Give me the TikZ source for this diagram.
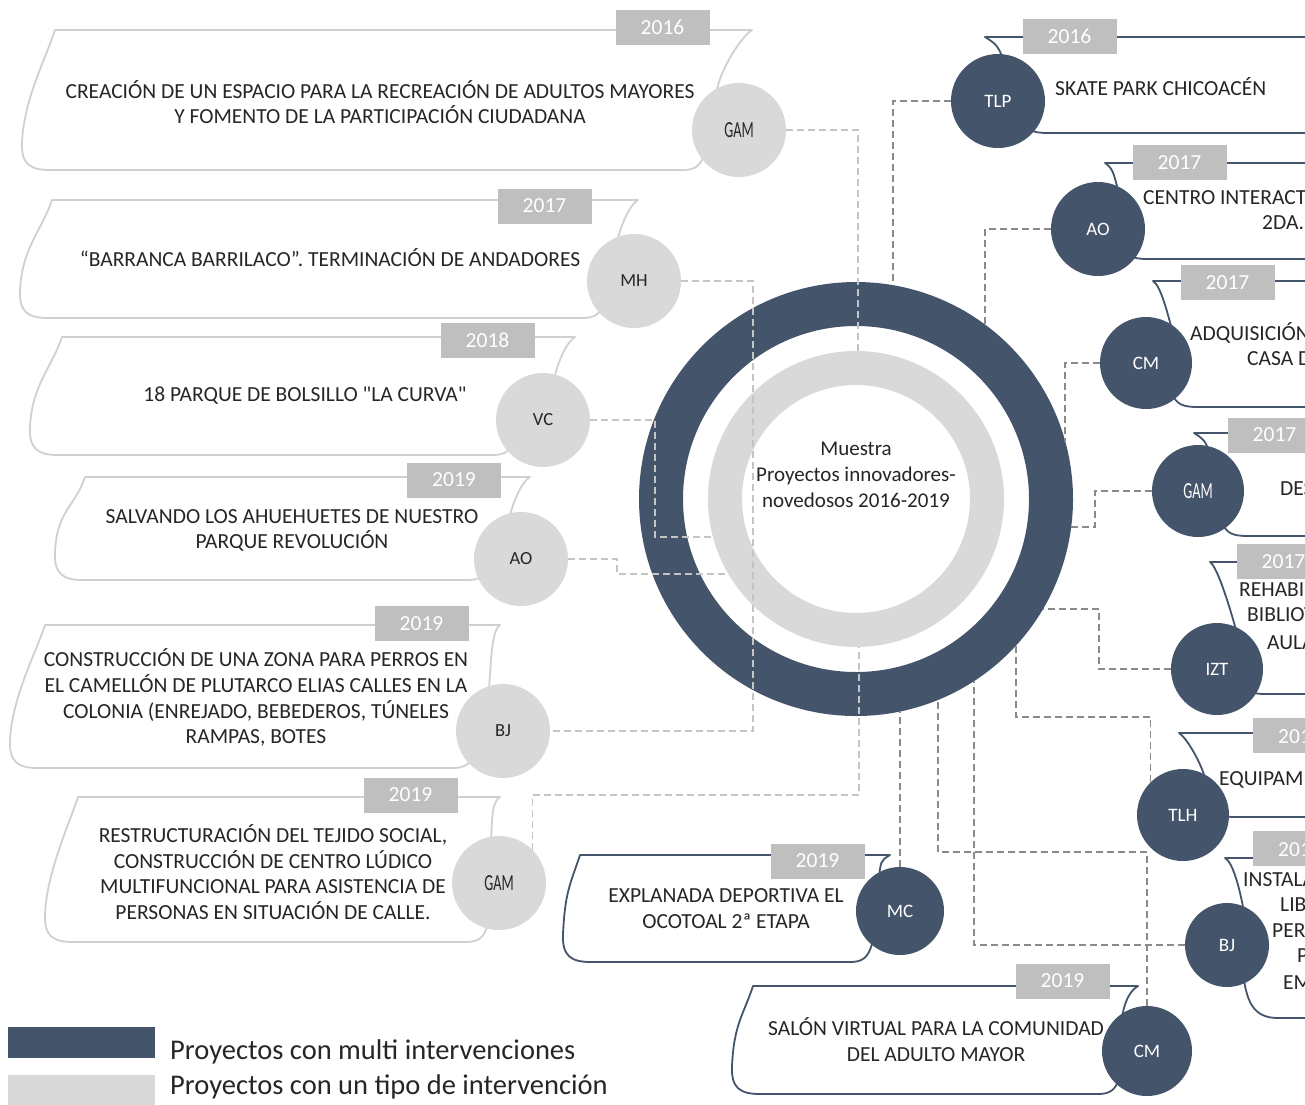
\documentclass[tikz,border=0pt]{standalone}
\usepackage{fontspec}
\setmainfont{Carlito}
\newfontfamily\condfont[FakeStretch=0.62]{Carlito}
\definecolor{dk}{HTML}{44546A}
\definecolor{lg}{HTML}{D9D9D9}
\definecolor{yb}{HTML}{BFBFBF}
\definecolor{lline}{HTML}{D0D0D0}
\definecolor{txt}{HTML}{262626}
\definecolor{ldashc}{HTML}{C4C4C4}
\definecolor{rdashc}{HTML}{8A8A8A}
\tikzset{
 lcardst/.style={draw=lline, line width=1.8pt, line join=round},
 rcardst/.style={draw=dk, line width=1.8pt, line join=round},
 yearbox/.style={fill=yb, text=white, minimum width=94pt, minimum height=35pt, inner sep=0pt, font=\fontsize{21.5}{26}\selectfont},
 dcirc/.style={circle, fill=dk, text=white, inner sep=0pt, font=\fontsize{19}{22}\selectfont},
 lcirc/.style={circle, fill=lg, text=txt, inner sep=0pt, minimum size=94pt, font=\fontsize{18.5}{22}\selectfont},
 ctext/.style={align=center, text=txt, inner sep=0pt, font=\fontsize{21.5}{25.8}\selectfont},
 rtext/.style={anchor=base west, text=txt, inner sep=0pt, font=\fontsize{21.5}{25.8}\selectfont},
 ytext/.style={anchor=base west, text=white, inner sep=0pt, font=\fontsize{21.5}{25.8}\selectfont},
 ldash/.style={draw=ldashc, line width=1.4pt, dash pattern=on 7pt off 4pt},
 rdash/.style={draw=rdashc, line width=1.4pt, dash pattern=on 7pt off 4pt},
}
\newcommand\gamlabel{{\condfont\fontsize{23}{26}\selectfont GAM}}
% card with circle on its right: style, L, T, R, B, Lb, xb, cx, cy
\newcommand\lcard[9]{%
 \draw[#1] (#8,#9) .. controls (#8+3,#9-25) and (#4-10,#3+6) .. (#4,#3) -- (#2,#3)
  .. controls (#2-10,#3+30) and (#6+2,#5-70) .. (#6,#5-28)
  .. controls (#6-1,#5-6) and (#6+8,#5) .. (#6+28,#5) -- (#7-22,#5)
  .. controls (#7-10,#5) and (#7-4,#5-4) .. (#7,#5-18);}
% card with circle on its left: Lc, T, B, xb, cx, cy
\newcommand\rcard[6]{%
 \draw[rcardst] (#5,#6) .. controls (#5-4,#6-15) and (#1+8,#2+5) .. (#1,#2) -- (1340,#2);
 \draw[rcardst] (#4,#3-14) .. controls (#4+4,#3-3) and (#4+10,#3) .. (#4+26,#3) -- (1340,#3);}
\begin{document}
\begin{tikzpicture}[x=1pt,y=-1pt]
\path[use as bounding box] (0,0) rectangle (1305,1104);
\clip (0,0) rectangle (1305,1104);
\fill[white] (0,0) rectangle (1305,1104);

% ---------- cards (left column, light) ----------
\lcard{lcardst}{55}{30}{752}{170}{22}{705}{716}{95}
\lcard{lcardst}{52}{200}{638}{318}{20}{605}{614}{258}
\lcard{lcardst}{62}{337}{575}{455}{30}{515}{551}{395}
\lcard{lcardst}{85}{477}{530}{580}{55}{490}{506}{535}
\lcard{lcardst}{45}{625}{500}{768}{10}{475}{488}{700}
\lcard{lcardst}{78}{797}{500}{942}{45}{488}{490}{850}
% ---------- cards (bottom middle, dark) ----------
\lcard{rcardst}{580}{855}{890}{962}{563}{872}{878}{885}
\lcard{rcardst}{753}{986}{1138}{1094}{732}{1120}{1120}{1030}
% ---------- cards (right column, dark) ----------
\rcard{985}{37}{133}{1022}{1003}{60}
\rcard{1105}{163}{259}{1122}{1118}{190}
\rcard{1153}{281}{407}{1172}{1172}{330}
\rcard{1194}{433}{536}{1222}{1210}{455}
\rcard{1210}{562}{694}{1240}{1236}{630}
\rcard{1179}{733}{817}{1210}{1205}{778}
\draw[rcardst] (1244,912) .. controls (1240,890) and (1233,862) .. (1225,858) -- (1340,858);
\draw[rcardst] (1243,975) .. controls (1247,1000) and (1252,1018) .. (1278,1018) -- (1340,1018);

% ---------- year boxes ----------
\node[yearbox] (y1) at (662.5,27.5) {2016};
\node[yearbox] (y2) at (544.5,206) {2017};
\node[yearbox] (y3) at (487.5,340) {2018};
\node[yearbox] (y4) at (454,480) {2019};
\node[yearbox] (y5) at (421.5,623.5) {2019};
\node[yearbox] (y6) at (410.5,795) {2019};
\node[yearbox] (y7) at (817.5,861) {2019};
\node[yearbox] (y8) at (1062.5,981) {2019};
\node[yearbox] (r1) at (1069.5,36) {2016};
\node[yearbox] (r2) at (1179.5,162.5) {2017};
\node[yearbox] (r3) at (1227.5,282.5) {2017};
\node[yearbox] (r4) at (1274.5,435) {2017};
\node[yearbox] (r5) at (1283.5,561.5) {2017};
\node[yearbox] (r6) at (1299.5,735.5) {};
\node[ytext] (r6t) at (1278,743) {201};
\node[yearbox] (r7) at (1299.5,848) {};
\node[ytext] (r7t) at (1278,856) {201};

% ---------- card texts ----------
\node[ctext] (t1) at (380,102) {CREACIÓN DE UN ESPACIO PARA LA RECREACIÓN DE ADULTOS MAYORES\\Y FOMENTO DE LA PARTICIPACIÓN CIUDADANA};
\node[ctext] (t2) at (330,258) {“BARRANCA BARRILACO”. TERMINACIÓN DE ANDADORES};
\node[ctext] (t3) at (305,396) {18 PARQUE DE BOLSILLO \textquotedbl LA CURVA\textquotedbl};
\node[ctext] (t4) at (292,530.5) {SALVANDO LOS AHUEHUETES DE NUESTRO\\PARQUE REVOLUCIÓN};
\node[ctext] (t5) at (256,697.5) {CONSTRUCCIÓN DE UNA ZONA PARA PERROS EN\\EL CAMELLÓN DE PLUTARCO ELIAS CALLES EN LA\\COLONIA (ENREJADO, BEBEDEROS, TÚNELES\\RAMPAS, BOTES};
\node[ctext] (t6) at (273,872) {RESTRUCTURACIÓN DEL TEJIDO SOCIAL,\\CONSTRUCCIÓN DE CENTRO LÚDICO\\MULTIFUNCIONAL PARA ASISTENCIA DE\\PERSONAS EN SITUACIÓN DE CALLE.};
\node[ctext] (t7) at (726,908.5) {EXPLANADA DEPORTIVA EL\\OCOTOAL 2ª ETAPA};
\node[ctext] (t8) at (936,1039.5) {SALÓN VIRTUAL PARA LA COMUNIDAD\\DEL ADULTO MAYOR};
\node[rtext] (s1) at (1055,95) {SKATE PARK CHICOACÉN};
\node[rtext] (s2a) at (1143,204) {CENTRO INTERACT};
\node[rtext] (s2b) at (1262,229) {2DA.};
\node[rtext] (s3a) at (1190,340) {ADQUISICIÓN};
\node[rtext] (s3b) at (1247,365) {CASA D};
\node[rtext] (s4) at (1280,495) {DES};
\node[rtext] (s5a) at (1239,596) {REHABI};
\node[rtext] (s5b) at (1247,621) {BIBLIOT};
\node[rtext] (s5c) at (1267,649) {AULA};
\node[rtext] (s6) at (1219,785) {EQUIPAM};
\node[rtext] (s7a) at (1243,886) {INSTALA};
\node[rtext] (s7b) at (1280,911) {LIB};
\node[rtext] (s7c) at (1272,937) {PER};
\node[rtext] (s7d) at (1297,962) {P};
\node[rtext] (s7e) at (1283,989) {EM};

% ---------- central rings ----------
\node[circle, draw=dk, line width=44pt, minimum size=390pt, inner sep=0pt] (ring) at (856,499) {};
\node[circle, draw=lg, line width=34pt, minimum size=262pt, inner sep=0pt] (ringin) at (856,499) {};
\node[ctext, font=\fontsize{21}{26}\selectfont] (ctr) at (856,475) {Muestra\\Proyectos innovadores-\\novedosos 2016-2019};

% ---------- circles ----------
\node[lcirc] (lgam1) at (739,130) {\gamlabel};
\node[lcirc] (lmh) at (634,281) {MH};
\node[lcirc] (lvc) at (543,420) {VC};
\node[lcirc] (lao) at (521,559) {AO};
\node[lcirc] (lbj) at (503,731) {BJ};
\node[lcirc] (lgam6) at (499,883) {\gamlabel};
\node[dcirc, minimum size=94pt] (rtlp) at (998,101) {TLP};
\node[dcirc, minimum size=94pt] (rao) at (1098,229) {AO};
\node[dcirc, minimum size=92pt] (rcm) at (1146,363) {CM};
\node[dcirc, minimum size=92pt] (rgam) at (1198,491) {\gamlabel};
\node[dcirc, minimum size=92pt] (rizt) at (1217,669) {IZT};
\node[dcirc, minimum size=92pt] (rtlh) at (1183,815) {TLH};
\node[dcirc, minimum size=84pt] (rbj) at (1227,945) {BJ};
\node[dcirc, minimum size=88pt] (bmc) at (900,911) {MC};
\node[dcirc, minimum size=90pt] (bcm) at (1147,1051) {CM};

% ---------- connector ends and bends ----------
\coordinate (e-gam1) at (858,351);
\coordinate (k-mhbj) at (753,500);
\coordinate (k-vc) at (655,480);
\coordinate (e-vc) at (713,537);
\coordinate (k-ao) at (617,566);
\coordinate (e-ao) at (728,574);
\coordinate (k-gam6) at (700,795);
\coordinate (e-gam6) at (859,647);
\coordinate (e-tlp) at (893,285);
\coordinate (e-rao) at (985,325);
\coordinate (e-rcm) at (1065,441);
\coordinate (k-rgam) at (1095,510);
\coordinate (e-rgam) at (1071,527);
\coordinate (k-rizt) at (1099,640);
\coordinate (e-rizt) at (1043,609);
\coordinate (k-rtlh) at (1080,717);
\coordinate (e-rtlh) at (1016,646);
\coordinate (e-rbj) at (974,681);
\coordinate (k-bcm) at (1000,852);
\coordinate (e-bcm) at (938,700);
\coordinate (e-bmc) at (900,711);

% ---------- connectors ----------
\draw[ldash] (lgam1) -| (e-gam1);
\draw[ldash] (lmh) -| (k-mhbj) |- (lbj);
\draw[ldash] (lvc) -| (k-vc) |- (e-vc);
\draw[ldash] (lao) -| (k-ao) |- (e-ao);
\draw[ldash] (lgam6.45) |- (k-gam6) -| (e-gam6);
\draw[rdash] (rtlp) -| (e-tlp);
\draw[rdash] (rao) -| (e-rao);
\draw[rdash] (rcm) -| (e-rcm);
\draw[rdash] (rgam) -| (k-rgam) |- (e-rgam);
\draw[rdash] (rizt) -| (k-rizt) |- (e-rizt);
\draw[rdash] (rtlh.135) |- (k-rtlh) -| (e-rtlh);
\draw[rdash] (rbj) -| (e-rbj);
\draw[rdash] (bcm) |- (k-bcm) -| (e-bcm);
\draw[rdash] (bmc) -- (e-bmc);

% ---------- legend ----------
\node[fill=dk, minimum width=147pt, minimum height=31pt, inner sep=0pt] (lg1) at (81.5,1042.5) {};
\node[fill=lg, minimum width=147pt, minimum height=30pt, inner sep=0pt] (lg2) at (81.5,1090) {};
\node[anchor=base west, text=txt, inner sep=0pt, font=\fontsize{28.5}{34}\selectfont] (lt1) at (170,1059) {Proyectos con multi intervenciones};
\node[anchor=base west, text=txt, inner sep=0pt, font=\fontsize{28.5}{34}\selectfont] (lt2) at (170,1094) {Proyectos con un tipo de intervención};
\end{tikzpicture}
\end{document}
